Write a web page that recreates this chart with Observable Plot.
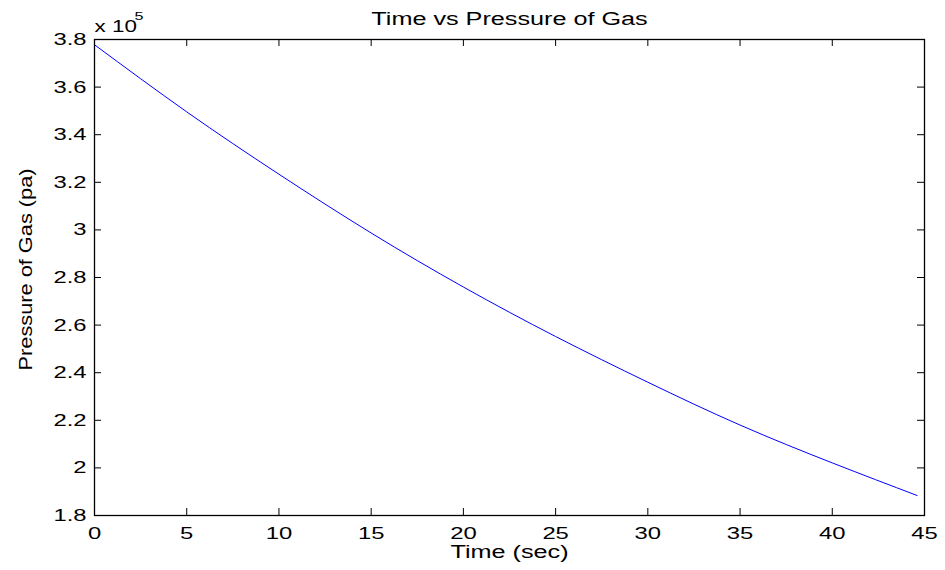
<!DOCTYPE html>
<html><head><meta charset="utf-8">
<script src="https://cdn.jsdelivr.net/npm/d3@7"></script>
<script src="https://cdn.jsdelivr.net/npm/@observablehq/plot@0.6"></script>
<style>body{margin:0;background:#fff}svg{display:block}</style></head>
<body><div id="chart"></div>
<script>
// Data
const timeSec = [0, 5, 10, 15, 20, 25, 30, 35, 40, 44.6];
const pressurePa = [377800, 349600, 323400, 298700, 276000, 255200, 236000, 218000, 202100, 188400];
const xTicks = [0, 5, 10, 15, 20, 25, 30, 35, 40, 45];
const yTicks = [180000, 200000, 220000, 240000, 260000, 280000, 300000, 320000, 340000, 360000, 380000];
const titleText = "Time vs Pressure of Gas";
const xLabel = "Time (sec)";
const yLabel = "Pressure of Gas (pa)";
const exponentBase = "x 10";
const exponentPower = "5";

const data = timeSec.map((t, i) => ({t, p: pressurePa[i]}));
const W = 945, H = 570, mL = 94, mR = 21, mT = 39, mB = 55;
const innerH = H - mT - mB, innerW = W - mL - mR;
const font = "'Liberation Sans', Arial, Helvetica, sans-serif";

const chart = Plot.plot({
  width: W, height: H,
  marginLeft: mL, marginRight: mR, marginTop: mT, marginBottom: mB,
  style: {fontFamily: font, fontSize: "17px", background: "white", color: "black"},
  x: {domain: [0, 45], ticks: xTicks, tickSize: 0, tickPadding: 11, label: null},
  y: {domain: [180000, 380000], ticks: yTicks, tickSize: 0, tickPadding: 8, label: null,
      tickFormat: d => String(+(d / 1e5).toFixed(1))},
  marks: [
    Plot.line(data, {x: "t", y: "p", stroke: "#0000ff", strokeWidth: 1, curve: "natural"}),
    Plot.tickX(xTicks, {x: d => d, stroke: "black", insetTop: innerH - 7}),
    Plot.tickX(xTicks, {x: d => d, stroke: "black", insetBottom: innerH - 7}),
    Plot.tickY(yTicks, {y: d => d, stroke: "black", insetRight: innerW - 7}),
    Plot.tickY(yTicks, {y: d => d, stroke: "black", insetLeft: innerW - 7}),
    Plot.frame({stroke: "black", strokeWidth: 1.3}),
    Plot.text([titleText], {text: d => d, frameAnchor: "top", lineAnchor: "middle", textAnchor: "middle", dy: -20.5, fontSize: 18, fill: "black"}),
    Plot.text([xLabel], {text: d => d, frameAnchor: "bottom", lineAnchor: "middle", textAnchor: "middle", dy: 37, fontSize: 18, fill: "black"}),
    Plot.text([yLabel], {text: d => d, frameAnchor: "left", lineAnchor: "middle", textAnchor: "middle", dx: -69, dy: -8, rotate: -90, fontSize: 19, fill: "black"}),
    Plot.text([exponentBase], {text: d => d, frameAnchor: "top-left", lineAnchor: "middle", textAnchor: "start", dy: -13, fontSize: 16, fill: "black"}),
    Plot.text([exponentPower], {text: d => d, frameAnchor: "top-left", lineAnchor: "middle", textAnchor: "start", dx: 40, dy: -23, fontSize: 11.5, fill: "black"})
  ]
});
document.getElementById("chart").append(chart);
// Widen glyphs horizontally as in the reference rendering
chart.querySelectorAll("text").forEach(t => {
  const len = t.getComputedTextLength();
  if (!len) return;
  if (t.textContent === yLabel) t.setAttribute("textLength", 202);
  else t.setAttribute("textLength", len * 1.4);
  t.setAttribute("lengthAdjust", "spacingAndGlyphs");
});
</script>
</body></html>
